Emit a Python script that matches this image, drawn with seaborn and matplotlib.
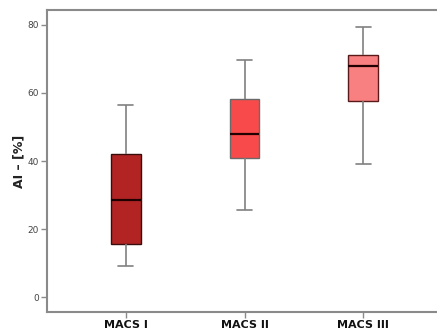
import numpy as np
import pandas as pd
import matplotlib
matplotlib.use("Agg")
import matplotlib.pyplot as plt
import seaborn as sns

categories = ["MACS I", "MACS II", "MACS III"]
wmin = [9.1, 25.6, 39.1]
q1 = [15.6, 40.9, 57.6]
med = [28.5, 48.0, 67.9]
q3 = [42.0, 58.2, 71.2]
wmax = [56.5, 69.7, 79.4]
fills = ["#b22424", "#f84a4a", "#f88080"]
edges = ["#3a0d0d", "#6a6a6a", "#5a1a1a"]

rows = []
for c, a, b, m, d, e in zip(categories, wmin, q1, med, q3, wmax):
    for v in (a, b, m, d, e):
        rows.append({"group": c, "AI": v})
df = pd.DataFrame(rows)

sns.set_style("white")
fig = plt.figure(figsize=(4.37, 3.36), dpi=100)
ax = fig.add_axes([47/437, 24/336, 1 - 47/437, 302/336])

sns.boxplot(data=df, x="group", y="AI", hue="group", order=categories,
            palette=fills, saturation=1, width=0.25, whis=(0, 100), legend=False,
            linewidth=1.0, ax=ax,
            whiskerprops=dict(color="#808080", linewidth=1.2),
            capprops=dict(color="#808080", linewidth=1.2),
            medianprops=dict(color="#200000", linewidth=1.6))

for p, ec in zip(ax.patches, edges):
    p.set_edgecolor(ec)
    p.set_linewidth(1.0)

ax.set_xlim(-0.663, 2.62)
ax.set_ylim(-4.4, 84.4)
ax.set_yticks([0, 20, 40, 60, 80])
ax.set_xlabel("")
ax.set_ylabel("AI – [%]", fontsize=9, fontweight="bold", color="#222222", labelpad=1)
for s in ["left", "top", "bottom"]:
    ax.spines[s].set_color("#8a8a8a")
    ax.spines[s].set_linewidth(1.5)
ax.spines["right"].set_visible(False)
ax.tick_params(axis="y", direction="out", length=4, width=1, color="#8a8a8a",
               labelsize=6.5, labelcolor="#444444", left=True, pad=2)
ax.tick_params(axis="x", direction="out", length=4, width=1, color="#8a8a8a",
               labelsize=8, bottom=True, pad=2)
for t in ax.get_xticklabels():
    t.set_fontweight("bold")
    t.set_color("#111111")

fig.savefig("out.png", dpi=100)
